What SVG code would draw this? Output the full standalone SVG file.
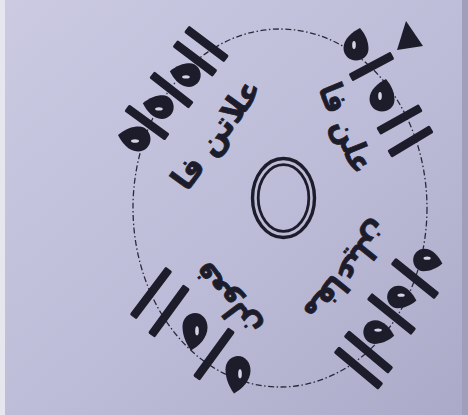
<svg xmlns="http://www.w3.org/2000/svg" xmlns:xlink="http://www.w3.org/1999/xlink" width="468" height="415" viewBox="0 0 468 415">
<style>
.ink{fill:#1d1c2b}
.lbl{font-family:"DejaVu Sans",sans-serif;font-weight:bold;font-size:32px;fill:#1d1c2b;stroke:#1d1c2b;stroke-width:0.8;text-anchor:middle;dominant-baseline:central}
.ring{fill:none;stroke:#1d1c2b}
</style>
<defs>
<linearGradient id="paper" x1="0" y1="0" x2="1" y2="1">
<stop offset="0" stop-color="#cbcae2"/>
<stop offset="0.55" stop-color="#bdbcd8"/>
<stop offset="1" stop-color="#aaa9c7"/>
</linearGradient>
<rect id="bar" class="ink" x="-25" y="-4.2" width="50" height="8.4" rx="1.5"/>
<g id="drop">
<path class="ink" d="M4,-16 C10,-9 12.5,-2 12.5,5 C12.5,12 6,16.5 0,16.5 C-7,16.5 -12.5,11 -12.5,4 C-12.5,-5 -4,-12 4,-16 Z"/>
<ellipse cx="-2" cy="1" rx="1.8" ry="4" fill="#d4d3e6"/>
</g>
</defs>
<rect width="468" height="415" fill="url(#paper)"/>
<rect width="5" height="415" fill="#e6e6ef"/>
<rect x="462" width="6" height="415" fill="#a09fbb"/>

<g id="connectors">
<ellipse cx="280" cy="208" rx="147" ry="179" fill="none" stroke="#2a293a" stroke-width="1.3" stroke-dasharray="6 2.5 1.5 2.5"/>
</g>

<g id="center">
<ellipse class="ring" cx="283.5" cy="198" rx="31" ry="39.5" stroke-width="3.4"/>
<ellipse class="ring" cx="283.5" cy="198" rx="25.3" ry="33.3" stroke-width="2.8"/>
</g>

<g id="top-left">
<use xlink:href="#bar" transform="translate(147,122.5) rotate(36)"/>
<use xlink:href="#bar" transform="translate(171.5,90) rotate(38)"/>
<use xlink:href="#bar" transform="translate(195,58.5) rotate(37)"/>
<use xlink:href="#bar" transform="translate(206.5,44) rotate(37)"/>
<use xlink:href="#drop" transform="translate(134,139) rotate(-90)"/>
<use xlink:href="#drop" transform="translate(158,107) rotate(-90) scale(0.95)"/>
<use xlink:href="#drop" transform="translate(185,75) rotate(-90) scale(0.95)"/>
<text class="lbl" transform="translate(216,134) rotate(-54)" textLength="128" lengthAdjust="spacingAndGlyphs">علاتن فا</text>
</g>

<g id="top-right">
<use xlink:href="#bar" transform="translate(371.5,66.5) rotate(-28) scale(0.95,1)"/>
<use xlink:href="#bar" transform="translate(399.5,119.5) rotate(-29) scale(0.97,1)"/>
<use xlink:href="#bar" transform="translate(410.5,141.5) rotate(-31) scale(0.98,1)"/>
<use xlink:href="#drop" transform="translate(356,44)"/>
<use xlink:href="#drop" transform="translate(382,95)"/>
<polygon class="ink" points="406,21 397,50 423,46"/>
<text class="lbl" transform="translate(346,128) rotate(68)" textLength="94" lengthAdjust="spacingAndGlyphs">علن فا</text>
</g>

<g id="bottom-right">
<use xlink:href="#bar" transform="translate(415,278.5) rotate(39) scale(1.12,1)"/>
<use xlink:href="#bar" transform="translate(391.5,314) rotate(39) scale(1.14,1)"/>
<use xlink:href="#bar" transform="translate(368.5,352) rotate(40) scale(1.16,1)"/>
<use xlink:href="#bar" transform="translate(358.5,368) rotate(40) scale(1.16,1)"/>
<use xlink:href="#drop" transform="translate(428,260) rotate(90) scale(0.9)"/>
<use xlink:href="#drop" transform="translate(402,297) rotate(90) scale(0.9)"/>
<use xlink:href="#drop" transform="translate(379,332) rotate(90) scale(0.95)"/>
<text class="lbl" transform="translate(348,272) rotate(129)" textLength="118" lengthAdjust="spacingAndGlyphs">مفاعیلن</text>
</g>

<g id="bottom-left">
<use xlink:href="#bar" transform="translate(151,293) rotate(-53) scale(1.2,1)"/>
<use xlink:href="#bar" transform="translate(169,311) rotate(-54) scale(1.2,1)"/>
<use xlink:href="#bar" transform="translate(214,354) rotate(-54) scale(1.2,1)"/>
<use xlink:href="#drop" transform="translate(195,332) rotate(180) scale(1,1.15)"/>
<use xlink:href="#drop" transform="translate(238,375) rotate(180) scale(1,1.15)"/>
<text class="lbl" transform="translate(226,300) rotate(-127)" textLength="86" lengthAdjust="spacingAndGlyphs">فعولن</text>
</g>
</svg>
